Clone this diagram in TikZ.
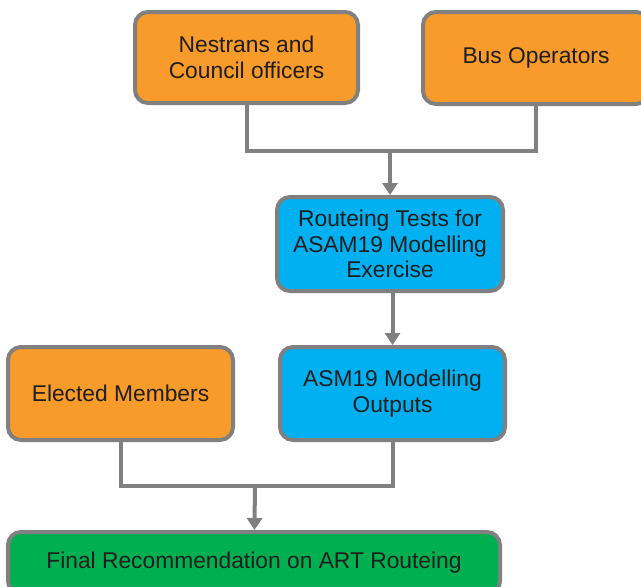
\documentclass[tikz,border=0pt]{standalone}
\usepackage{fontspec}
\setmainfont{Liberation Sans}
\usepackage{tikz}
\usetikzlibrary{arrows.meta}

\definecolor{boxorange}{RGB}{249,155,42}
\definecolor{boxblue}{RGB}{0,176,240}
\definecolor{boxgreen}{RGB}{0,176,80}
\definecolor{linegrey}{RGB}{128,128,128}
\definecolor{textdark}{RGB}{30,30,30}

\begin{document}
\begin{tikzpicture}
	[x=1pt,y=1pt,>={Triangle[width=15pt,length=12pt]},
		base box/.style={draw=linegrey,line width=4pt,rounded corners=13pt,align=center,
			text=textdark,font=\fontsize{22.8}{25.5}\selectfont,inner sep=0pt},
		actor box/.style={base box,fill=boxorange},
		model box/.style={base box,fill=boxblue},
		result box/.style={base box,fill=boxgreen},
		link/.style={draw=linegrey,line width=4pt}]

	\useasboundingbox (0,0) rectangle (641,-587);

	\node[actor box,minimum width=223pt,minimum height=91pt]  (nestrans) at (246.5,-57.5) {Nestrans and\\Council officers};
	\node[actor box,minimum width=226pt,minimum height=92pt]  (busops)   at (536,-58)     {Bus Operators};
	\node[model box,minimum width=226pt,minimum height=94pt]  (tests)    at (390,-244)    {Routeing Tests for\\ASAM19 Modelling\\Exercise};
	\node[model box,minimum width=225pt,minimum height=93pt]  (outputs)  at (392.5,-393.5) {ASM19 Modelling\\Outputs};
	\node[actor box,minimum width=225pt,minimum height=93pt]  (members)  at (120.5,-393.5) {Elected Members};
	\node[result box,minimum width=492pt,minimum height=62pt] (final)    at (254,-563)    {Final Recommendation on ART Routeing};

	\coordinate (top join) at (390,-151);
	\coordinate (low join) at (255,-486);

	\path[link]
	(nestrans) |- (top join) -| (busops)
	(members) |- (low join) -| (outputs);

	\draw[link,->] (top join) -- (tests);
	\draw[link,->] (tests.south -| outputs.north) -- (outputs);
	\draw[link,->] (low join) -- (final);

\end{tikzpicture}
\end{document}
